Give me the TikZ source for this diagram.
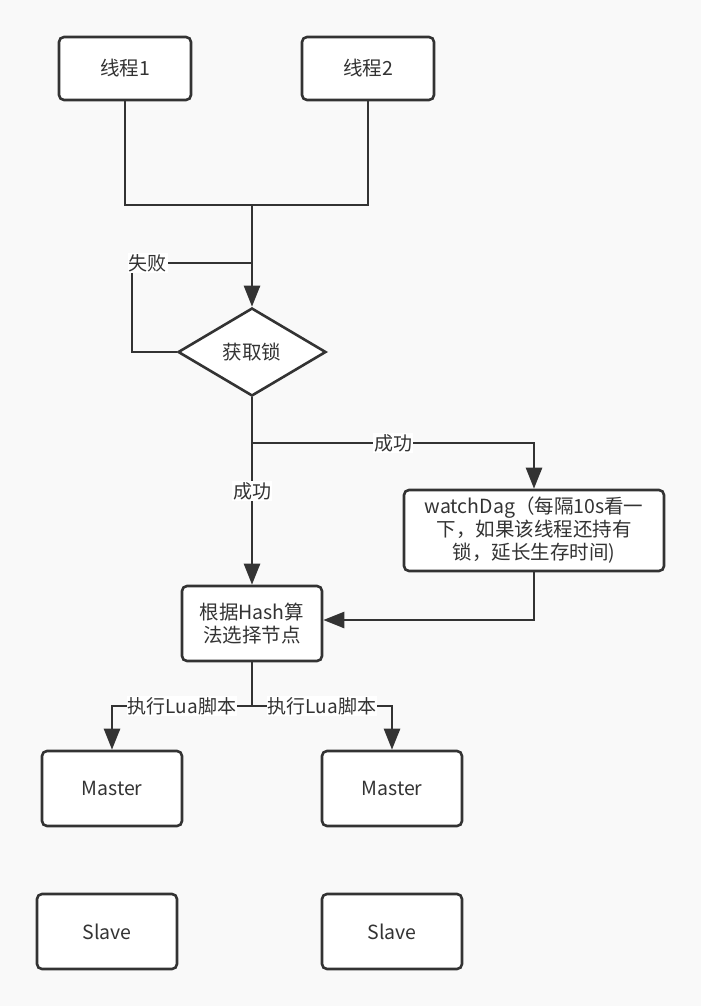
\documentclass[tikz,border=0pt]{standalone}
\usepackage{fontspec}
\setmainfont{Noto Sans CJK SC}
\usepackage{tikz}
\usetikzlibrary{shapes.geometric,arrows.meta}
\definecolor{ink}{HTML}{333333}
\definecolor{paper}{HTML}{F9F9F9}
\tikzstyle{none}=[inner sep=0pt]
\tikzstyle{box}=[rectangle,rounded corners=5pt,fill=white,draw=ink,line width=2.6pt,text=ink,align=center,font=\fontsize{19.5pt}{23pt}\selectfont]
\tikzstyle{thread}=[style=box,minimum width=132pt,minimum height=63pt]
\tikzstyle{redis}=[style=box,minimum width=140pt,minimum height=75pt]
\tikzstyle{decision}=[diamond,aspect=1.68,minimum width=148pt,minimum height=88pt,inner sep=0pt,fill=white,draw=ink,line width=2.6pt,text=ink,font=\fontsize{19.5pt}{23pt}\selectfont]
\tikzstyle{simple}=[-,draw=ink,line width=2.6pt]
\tikzstyle{inarrow}=[-{Triangle[length=21pt,width=16pt]},draw=ink,line width=2.6pt]
\tikzstyle{edgelabel}=[fill=white,inner sep=1pt,text=ink,font=\fontsize{19pt}{21pt}\selectfont]
\pgfdeclarelayer{bglayer}
\pgfdeclarelayer{edgelayer}
\pgfdeclarelayer{nodelayer}
\pgfsetlayers{bglayer,edgelayer,nodelayer,main}

\begin{document}
\begin{tikzpicture}[x=1pt,y=-1pt]
	\begin{pgfonlayer}{bglayer}
		\fill [paper] (0, 0) rectangle (701, 1006);
	\end{pgfonlayer}
	\begin{pgfonlayer}{nodelayer}
		\node [style=thread] (t1) at (125, 68.5) {线程1};
		\node [style=thread] (t2) at (368, 68.5) {线程2};
		\node [style=decision] (lock) at (252, 352) {获取锁};
		\node [style=box,minimum width=260pt,minimum height=81pt] (watch) at (534, 530.5) {watchDag（每隔10s看一\\下，如果该线程还持有\\锁，延长生存时间)};
		\node [style=redis] (hash) at (252, 623.5) {根据Hash算\\法选择节点};
		\node [style=redis] (m1) at (112, 788.5) {Master};
		\node [style=redis] (m2) at (392, 788.5) {Master};
		\node [style=redis] (s1) at (107, 931.5) {Slave};
		\node [style=redis] (s2) at (392, 931.5) {Slave};

		\node [style=none] (join) at (252, 205) {};
		\node [style=none] (failc) at (132, 263) {};
		\node [style=none] (failj) at (252, 263) {};
		\node [style=none] (okj) at (252, 443) {};
		\node [style=none] (luaj) at (252, 706) {};
	\end{pgfonlayer}
	\begin{pgfonlayer}{edgelayer}
		\draw [style=simple] (t1) |- (join.center) -| (t2);
		\draw [style=inarrow] (join.center) to (lock);
		\draw [style=simple] (lock.west) -| (failc.center) -- node [style=edgelabel,pos=0.13] {失败} (failj.center);
		\draw [style=inarrow] (lock) -- node [style=edgelabel] {成功} (hash);
		\draw [style=inarrow] (okj.center) -| node [style=edgelabel,pos=0.25] {成功} (watch);
		\draw [style=inarrow] (watch) |- ([yshift=3.5pt]hash.east);
		\draw [style=simple] (hash) to (luaj.center);
		\draw [style=inarrow] (luaj.center) -| node [style=edgelabel,pos=0.25] {执行Lua脚本} (m1);
		\draw [style=inarrow] (luaj.center) -| node [style=edgelabel,pos=0.25] {执行Lua脚本} (m2);
	\end{pgfonlayer}
\end{tikzpicture}
\end{document}
